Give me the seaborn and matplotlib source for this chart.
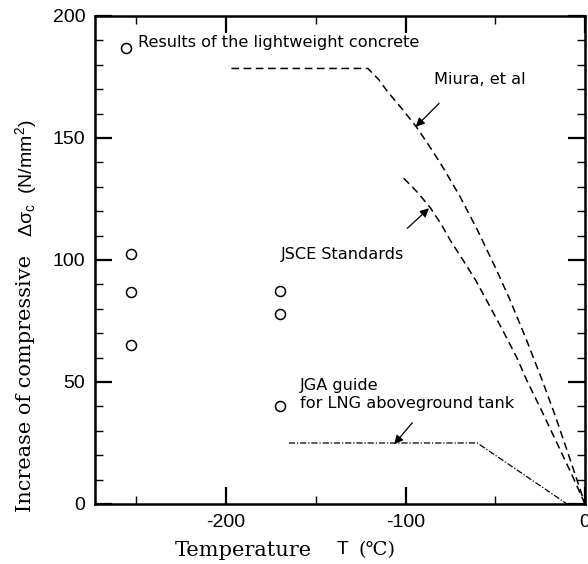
import numpy as np
import pandas as pd
import matplotlib
matplotlib.use("Agg")
import matplotlib.pyplot as plt
import seaborn as sns
from matplotlib.ticker import MultipleLocator

# ---- data ----
pts_T = [-256, -253, -253, -253, -170, -170, -170]
pts_dsig = [187, 102.5, 87, 65, 87.3, 78, 40]

miura_T = [-197, -121, -115, -110, -102, -94, -87, -80, -70, -60, -50, -42, -33, -24, -17, -10, 0]
miura_s = [178.5, 178.5, 174, 169, 162, 154.6, 147, 139, 126.5, 112.4, 97, 84, 68, 51, 37, 22, 0]

jsce_T = [-101, -93, -86, -80, -75, -68, -61, -53, -45, -38, -32.5, -24, -15, -7, 0]
jsce_s = [133.5, 127.5, 121.2, 114.5, 108, 100, 91.8, 81, 70, 60, 50.8, 38, 24, 11.5, 0]

jga_T = [-165, -60, -10, 0]
jga_s = [25, 25, 0, 0]

xticks = [-200, -100, 0]
yticks = [0, 50, 100, 150, 200]

W, H = 588, 564
sns.set_theme(style="ticks")
plt.rcParams['font.family'] = ['Liberation Sans', 'DejaVu Sans']
plt.rcParams['mathtext.default'] = 'regular'
plt.rcParams['text.color'] = 'black'

fig = plt.figure(figsize=(W / 100, H / 100), dpi=100)
ax = fig.add_axes([95 / W, 1 - 504 / H, (585 - 95) / W, (504 - 16) / H])

df_pts = pd.DataFrame({"T": pts_T, "s": pts_dsig})
sns.scatterplot(data=df_pts, x="T", y="s", ax=ax, marker="o", s=52,
                facecolor="white", edgecolor="black", linewidth=1.1, zorder=5)

sns.lineplot(x=miura_T, y=miura_s, ax=ax, sort=False, estimator=None,
             color="black", lw=1.1, linestyle=(0, (5, 3)))
sns.lineplot(x=jsce_T, y=jsce_s, ax=ax, sort=False, estimator=None,
             color="black", lw=1.1, linestyle=(0, (5, 3)))
sns.lineplot(x=jga_T, y=jga_s, ax=ax, sort=False, estimator=None,
             color="black", lw=0.9, linestyle=(0, (5, 1.5, 1, 1.5)))

ax.set_xlim(-273, 0)
ax.set_ylim(0, 200)
ax.set_xticks(xticks)
ax.set_yticks(yticks)
ax.set_xticklabels([str(t) for t in xticks])
ax.set_yticklabels([str(t) for t in yticks])
ax.xaxis.set_minor_locator(MultipleLocator(50))
ax.yaxis.set_minor_locator(MultipleLocator(10))
ax.tick_params(which="both", direction="in", top=True, right=True,
               labelsize=14, color="black", labelcolor="black")
ax.tick_params(which="major", length=12, width=1.6, pad=7)
ax.tick_params(which="minor", length=6, width=1.0)
for sp in ax.spines.values():
    sp.set_linewidth(1.8)
    sp.set_color("black")
ax.set_xlabel("")
ax.set_ylabel("")

fs = 11.6
afam = ['DejaVu Sans']
ax.text(-249, 189, "Results of the lightweight concrete", fontsize=fs,
        va="center", ha="left", family=afam, color="black")
ax.text(-84, 174, "Miura, et al", fontsize=fs, va="center", ha="left",
        family=afam, color="black")
ax.text(-169.5, 102.3, "JSCE Standards", fontsize=fs, va="center", ha="left",
        family=afam, color="black")
ax.text(-159, 44.9, "JGA guide\nfor LNG aboveground tank", fontsize=fs,
        va="center", ha="left", linespacing=1.2, family=afam, color="black")

arw = dict(arrowstyle="-|>", color="black", lw=0.9, mutation_scale=13, shrinkA=0, shrinkB=0)
ax.annotate("", xy=(-94.3, 154.6), xytext=(-81.3, 164.2), arrowprops=arw)
ax.annotate("", xy=(-86.9, 121.2), xytext=(-99, 113), arrowprops=arw)
ax.annotate("", xy=(-106.3, 24.5), xytext=(-96.2, 33.3), arrowprops=arw)

# axis labels (mixed serif / sans)
serif = ['DejaVu Serif', 'DejaVu Sans']
fig.text(26 / W, 1 - 383 / H, "Increase of compressive", rotation=90,
         ha="center", va="center", fontsize=15, family=serif, color="black")
fig.text(26 / W, 1 - 178 / H, r"Δσ$_{c}$  (N/mm$^{2}$)", rotation=90,
         ha="center", va="center", fontsize=14, color="black")
fig.text(175 / W, 1 - 550 / H, "Temperature", ha="left", va="center",
         fontsize=15, family=serif, color="black")
fig.text(337 / W, 1 - 550 / H, "T", ha="left", va="center", fontsize=14, color="black")
fig.text(358 / W, 1 - 550 / H, "(℃)", ha="left", va="center",
         fontsize=14, family=serif, color="black")

fig.savefig("out.png", dpi=100, facecolor="white")
